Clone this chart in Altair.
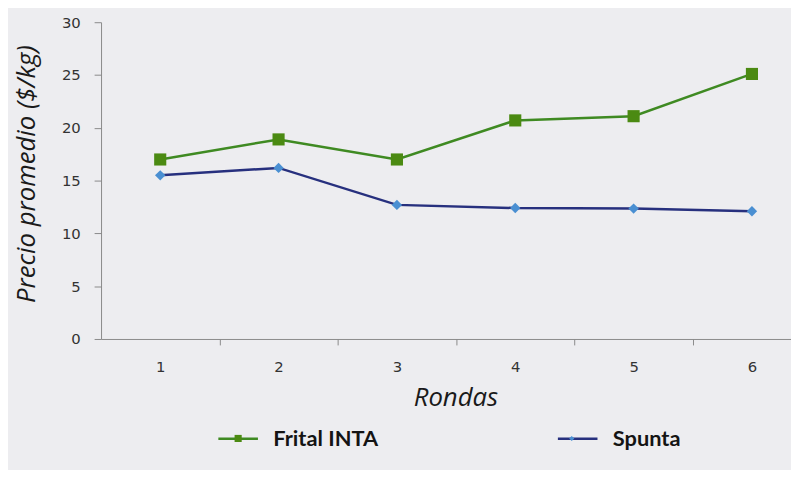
import altair as alt
import pandas as pd

rondas = [1, 2, 3, 4, 5, 6]
series = ["Frital INTA", "Spunta"]
frital = [17.0, 18.9, 17.0, 20.7, 21.1, 25.1]
spunta = [15.5, 16.2, 12.7, 12.4, 12.35, 12.1]
y_ticks = [0, 5, 10, 15, 20, 25, 30]
x_ticks = [1, 1.5, 2, 2.5, 3, 3.5, 4, 4.5, 5, 5.5, 6]

df = pd.DataFrame({
    "Ronda": rondas * 2,
    "Serie": [series[0]] * 6 + [series[1]] * 6,
    "Precio": frital + spunta,
})

line_colors = ["#3f8a22", "#27307e"]
marker_fill = ["#4b8a12", "#4a8fd2"]
marker_shapes = ["square", "diamond"]
marker_sizes = [150, 110]
legend_marker_shapes = [
    "M-0.18,-0.18H0.18V0.18H-0.18Z",
    "M0,-0.13L0.13,0L0,0.13L-0.13,0Z",
]

x = alt.X(
    "Ronda:Q",
    scale=alt.Scale(domain=[0.5, 6.33], nice=False, zero=False),
    axis=alt.Axis(
        values=x_ticks,
        labelExpr="datum.value % 1 == 0 ? format(datum.value, 'd') : ''",
        tickOpacity={"condition": {"test": "datum.value % 1 == 0", "value": 0}, "value": 1},
        tickSize=6,
        labelPadding=15,
        title="Rondas",
        titlePadding=10,
        titleX=358,
        grid=False,
    ),
)
y = alt.Y(
    "Precio:Q",
    scale=alt.Scale(domain=[0, 30], nice=False),
    axis=alt.Axis(
        values=y_ticks,
        title="Precio promedio ($/kg)",
        tickSize=7,
        labelPadding=14,
        titlePadding=22,
        titleY=153,
        grid=False,
    ),
)

base = alt.Chart(df)

lines = base.mark_line(strokeWidth=2.5).encode(
    x=x, y=y,
    color=alt.Color("Serie:N", scale=alt.Scale(domain=series, range=line_colors), legend=None),
)

points = base.mark_point(filled=True, opacity=1).encode(
    x=x, y=y,
    fill=alt.Fill("Serie:N", scale=alt.Scale(domain=series, range=marker_fill), legend=None),
    shape=alt.Shape("Serie:N", scale=alt.Scale(domain=series, range=marker_shapes), legend=None),
    size=alt.Size("Serie:N", scale=alt.Scale(domain=series, range=marker_sizes), legend=None),
)

legend_common = dict(
    title=None,
    orient="none",
    legendY=399,
    direction="horizontal",
    symbolSize=1600,
    symbolStrokeWidth=2.5,
    symbolOpacity=1,
    labelFont="Lato",
    labelFontWeight="bold",
    labelFontSize=22,
    labelOffset=14,
    labelColor="#141414",
)

leg_lines = alt.Legend(symbolType="M-1,0H1", legendX=117, columns=2, columnPadding=176, **legend_common)
leg_mark_a = alt.Legend(values=[series[0]], legendX=117, labelExpr="''", **legend_common)
leg_mark_b = alt.Legend(values=[series[1]], legendX=454, labelExpr="''", **legend_common)

legend_line_layer = base.mark_point(filled=False, opacity=1, strokeWidth=2.5).encode(
    color=alt.Color("Serie:N", scale=alt.Scale(domain=series, range=line_colors), legend=leg_lines),
).transform_filter("false")


def marker_legend_layer(leg):
    return base.mark_point(filled=True, opacity=1).encode(
        fill=alt.Fill("Serie:N", scale=alt.Scale(domain=series, range=marker_fill), legend=leg),
        shape=alt.Shape("Serie:N", scale=alt.Scale(domain=series, range=legend_marker_shapes), legend=leg),
    ).transform_filter("false")


chart = alt.layer(
    lines, points, legend_line_layer, marker_legend_layer(leg_mark_a), marker_legend_layer(leg_mark_b)
).resolve_scale(
    color="independent", shape="independent", fill="independent"
).properties(
    width=697,
    height=320,
    padding={"left": 94, "top": 12, "right": 0, "bottom": 130},
    autosize=alt.AutoSizeParams(type="none"),
    background="#ededf0",
).configure_view(stroke=None).configure_axis(
    domainColor="#8a8a8a",
    tickColor="#8a8a8a",
    labelColor="#333333",
    labelFont="DejaVu Sans",
    labelFontSize=15,
    titleFont="Open Sans",
    titleFontStyle="italic",
    titleFontWeight="normal",
    titleFontSize=26,
    titleColor="#1a1a1a",
)

chart.save("out.html", embed_options={"renderer": "svg", "actions": False})
